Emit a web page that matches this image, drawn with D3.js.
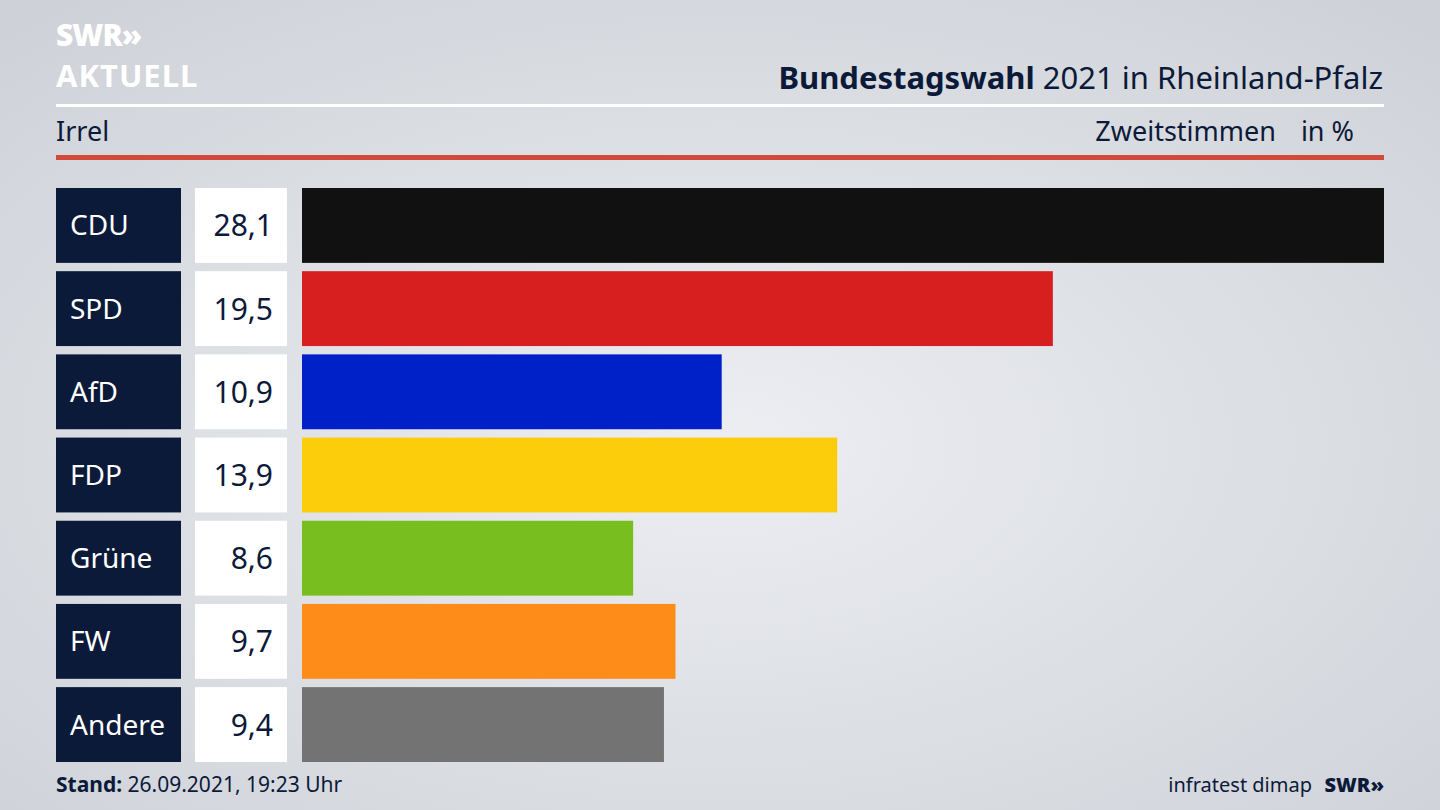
<!DOCTYPE html><html><head><meta charset="utf-8"><script src="https://cdn.jsdelivr.net/npm/d3@7"></script>
<style>body{margin:0}svg{display:block;font-family:"Noto Sans",sans-serif}</style></head><body><svg width="1440" height="810"></svg>
<script>
const parties=["CDU","SPD","AfD","FDP","Grüne","FW","Andere"];
const values=[28.1,19.5,10.9,13.9,8.6,9.7,9.4];
const colors=["#111111","#d71f1f","#0021c8","#fccd0a","#78be1e","#fd8c18","#737373"];
const svg=d3.select("svg");
const defs=svg.append("defs");
const g=defs.append("radialGradient").attr("id","bg").attr("cx","50%").attr("cy","55%").attr("r","75%");
g.append("stop").attr("offset","0%").attr("stop-color","#eceef2");
g.append("stop").attr("offset","100%").attr("stop-color","#cdd0d6");
svg.append("rect").attr("width",1440).attr("height",810).attr("fill","url(#bg)");
const navy="#0c1a3a";
svg.append("text").attr("x",56).attr("y",46).attr("fill","#fff").attr("font-size",30).attr("font-weight",900).attr("letter-spacing",-1).text("SWR»");
svg.append("text").attr("x",56).attr("y",87).attr("fill","#fff").attr("font-size",31).attr("font-weight",700).attr("letter-spacing",1).text("AKTUELL");
const t=svg.append("text").attr("x",1383).attr("y",89).attr("text-anchor","end").attr("fill",navy).attr("font-size",31);
t.append("tspan").attr("font-weight",700).text("Bundestagswahl");
t.append("tspan").text(" 2021 in Rheinland-Pfalz");
svg.append("rect").attr("x",56).attr("y",104).attr("width",1328).attr("height",3).attr("fill","#fff");
svg.append("text").attr("x",56).attr("y",141).attr("fill",navy).attr("font-size",27).text("Irrel");
svg.append("text").attr("x",1276).attr("y",141).attr("text-anchor","end").attr("fill",navy).attr("font-size",27).text("Zweitstimmen");
svg.append("text").attr("x",1354).attr("y",141).attr("text-anchor","end").attr("fill",navy).attr("font-size",27).text("in %");
svg.append("rect").attr("x",56).attr("y",155).attr("width",1328).attr("height",5).attr("fill","#d1493b");
const y=d3.scaleBand().domain(parties).range([188,762]).paddingInner(0.1).paddingOuter(0);
const x=d3.scaleLinear().domain([0,28.1]).range([302,1384]);
const rows=svg.selectAll("g.r").data(parties).join("g");
rows.append("rect").attr("x",56).attr("y",d=>y(d)).attr("width",125).attr("height",y.bandwidth()).attr("fill",navy);
rows.append("text").attr("x",70).attr("y",d=>y(d)+y.bandwidth()/2+10).attr("fill","#fff").attr("font-size",28).text(d=>d);
rows.append("rect").attr("x",195).attr("y",d=>y(d)).attr("width",92).attr("height",y.bandwidth()).attr("fill","#fff");
rows.append("text").attr("x",273).attr("y",d=>y(d)+y.bandwidth()/2+11).attr("text-anchor","end").attr("fill",navy).attr("font-size",30).text((d,i)=>values[i].toFixed(1).replace(".",","));
rows.append("rect").attr("x",x(0)).attr("y",d=>y(d)).attr("width",(d,i)=>x(values[i])-x(0)).attr("height",y.bandwidth()).attr("fill",(d,i)=>colors[i]);
const f=svg.append("text").attr("x",56).attr("y",792).attr("fill",navy).attr("font-size",21);
f.append("tspan").attr("font-weight",700).text("Stand:");
f.append("tspan").text(" 26.09.2021, 19:23 Uhr");
svg.append("text").attr("x",1312).attr("y",792).attr("text-anchor","end").attr("fill",navy).attr("font-size",20).text("infratest dimap");
svg.append("text").attr("x",1384).attr("y",792).attr("text-anchor","end").attr("fill",navy).attr("font-size",20).attr("font-weight",900).text("SWR»");
</script></body></html>
